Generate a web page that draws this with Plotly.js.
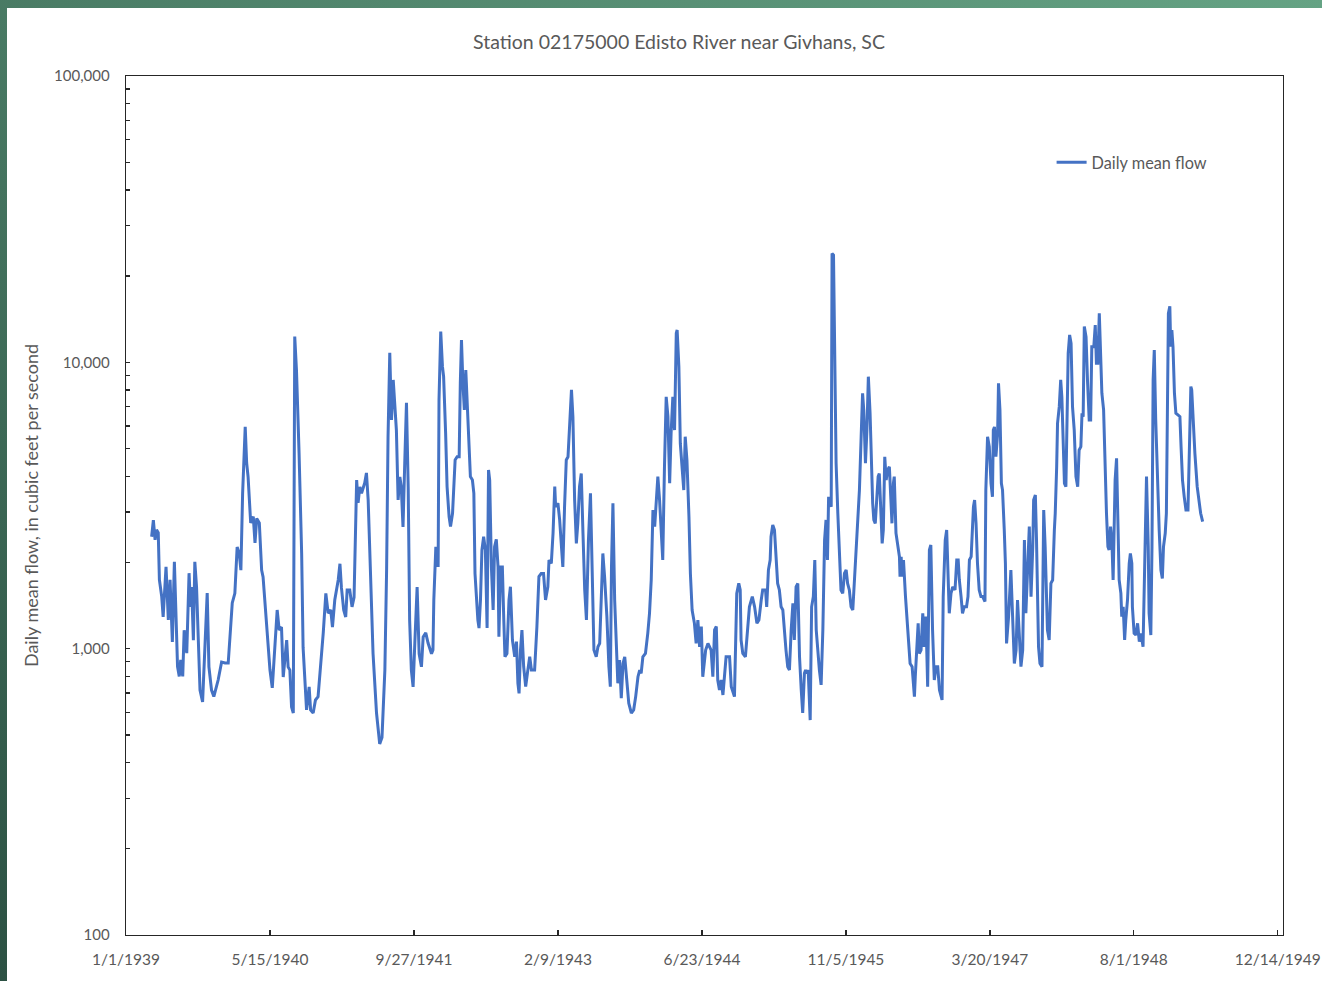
<!DOCTYPE html>
<html>
<head>
<meta charset="utf-8">
<script src="https://cdn.plot.ly/plotly-3.0.1.min.js"></script>
<style>
  html, body { margin: 0; padding: 0; width: 1322px; height: 981px; overflow: hidden; }
  body { background: linear-gradient(45deg, #2c5143 0%, #4b7d66 45%, #65a384 100%); position: relative; }
  #chart { position: absolute; left: 7px; top: 8px; width: 1315px; height: 973px; background: #fff; }
</style>
</head>
<body>
<div id="chart"></div>
<script>
// Days since 1/1/1939 (record start) and daily mean flow (cubic feet per second)
const startDate = '1939-01-01';
const dayOffsets = [
  89,95,101,106,112,116,124,129,139,147,153,161,168,174,179,185,190,197,202,211,
  219,224,228,234,239,245,257,266,274,282,288,297,305,320,332,344,355,361,369,378,
  386,393,399,405,414,419,424,433,442,448,454,463,471,476,488,500,508,517,525,532,
  540,546,553,558,563,569,575,581,586,592,601,610,615,621,627,636,641,650,658,667,
  677,685,694,702,711,717,725,737,743,748,756,763,768,777,785,792,801,806,812,818,
  829,835,841,847,853,858,870,881,889,899,905,910,916,922,928,933,939,945,951,956,
  962,968,974,980,985,991,997,1003,1011,1018,1026,1032,1041,1049,1061,1066,
  1069,1076,1084,1087,1093,1099,1103,1110,1115,1122,1127,1134,1138,1143,1150,1157,1161,1165,1170,1175,
  1180,1184,1191,1196,1203,1208,1212,1217,1222,1226,1231,1236,1242,1248,1254,1259,1263,1269,1275,1280,
  1286,1292,1295,1301,1307,1312,1316,1323,1330,1335,1342,1350,1356,1361,1365,1370,1375,1381,1388,1394,
  1402,1408,1419,1427,1434,1442,1450,1457,1465,1469,1477,1483,1489,1492,1500,1506,1512,1517,1523,1529,
  1535,1541,1547,1552,1558,1564,1569,1575,1581,1587,1593,1599,1606,1613,1619,1625,1633,1639,1645,1651,
  1656,1662,1670,1677,1682,1686,1691,1697,1703,1708,1714,1720,1726,1732,1737,1746,1755,1763,1770,1778,
  1784,1789,1795,1804,1812,1818,1824,1830,1836,1841,1847,1853,1859,1864,1870,1876,1882,1888,1893,1899,
  1905,1911,1914,1920,1925,1932,1937,1942,1948,1955,1960,1966,1974,1980,1986,1992,1998,2003,2013,2021,
  2032,2038,2044,2050,2055,2061,2067,2073,2079,2084,2096,
  2102,2113,2119,2121,2128,2133,2136,2142,2151,2159,2165,2175,2183,2191,2198,2206,2211,2221,2225,2231,
  2237,2240,2246,2252,2258,2263,2269,2275,2281,2286,2292,2298,2304,2310,2316,2321,2327,2333,2339,2345,
  2350,2356,2360,2364,2369,2376,2381,2387,2392,2397,2402,2408,2414,2420,2426,2431,2436,2440,2449,2452,
  2457,2461,2466,2472,2478,2483,2489,2495,2501,2506,2512,2518,2524,2530,2535,2541,2547,2553,2558,2562,
  2568,2573,2578,2584,2588,2593,2597,2602,2607,2612,2616,2621,2626,2630,2635,2640,2645,2651,2657,2660,
  2665,2668,2674,2680,2686,2688,2692,2695,2700,2707,2715,2720,2723,2730,2734,2738,2741,2746,2751,2755,
  2761,2767,2772,2778,2784,2790,2795,2801,2807,2813,2819,2825,2834,2838,2845,2850,2855,2859,2865,2871,
  2879,2885,2890,2894,2900,2905,2911,2919,2924,2929,2935,2938,2943,2947,2952,2957,2963,2969,2975,2983,
  2986,2992,2998,3004,3009,3012,3016,3021,3027,3030,3035,3040,3044,3050,3054,3058,3065,
  3073,3079,3085,3091,3096,3102,3108,3114,3120,3125,3131,3137,3143,3149,3152,3158,3162,3169,3174,3181,
  3187,3192,3200,3206,3212,3218,3224,3227,3232,3235,3241,3246,3250,3255,3259,3264,3268,3272,3277,3282,
  3287,3293,3299,3305,3310,3316,3320,3324,3328,3334,3339,3345,3350,3354,3361,3366,3370,3375,3380,3384,
  3389,3395,3401,3405,3410,3414,3419,3424,3428,3435,3440,3445,3449,3455,3458,3463,3468,3472,3478,3484,
  3488,3493,3495,3501,3507,3513,3519,3525,3532,3539,3544,3550,3553,3559,3563,3567,3571,3576,3582,3588,
  3594,3599,3603,3609,3613,3617,3620,3625,3628,3632,3636,3641,3646,3653,3660,3664,3669,3675,3681,3688,
  3692,3698,3701,3706,3712,3720,3726,3732,3739
];
const flows = [
  2460,2810,2400,2600,2540,1740,1520,1290,1930,1260,1740,1055,2010,1330,866,800,913,800,1160,965,
  1835,1400,1640,1070,2010,1640,717,652,1010,1565,864,717,680,777,898,891,891,1135,1445,1560,
  2265,2155,1880,3490,5960,4450,3980,2750,2890,2340,2850,2750,1880,1780,1190,842,730,1046,1365,1162,
  1190,796,960,1072,864,842,626,596,12300,9400,4830,2155,1010,735,611,735,611,596,662,680,
  891,1135,1560,1330,1365,1190,1479,1737,1980,1640,1365,1290,1603,1603,1400,1510,3880,3230,3670,3490,
  3790,4110,3305,1980,1445,960,596,465,490,842,1880,5500,10800,6290,8680,7390,5800,3305,3980,3670,
  2660,4450,7220,3670,1259,842,735,1046,1640,960,864,1098,1135,1046,960,989,
  1479,2270,1930,7390,12800,9660,8910,5650,3680,2890,2670,2970,3490,4560,4680,4680,8450,11970,8450,6820,
  9400,7390,4940,3990,3880,3490,1830,1479,1259,1180,1479,2211,2460,2211,1180,4210,3880,1930,1365,2270,
  2410,1930,1100,1930,1930,1259,937,962,1479,1645,1072,937,1058,757,698,989,1162,865,737,820,
  937,842,842,1195,1785,1830,1830,1479,1645,2040,1985,2530,3680,3130,3220,2815,2150,1930,3130,4560,
  4680,6120,8010,6460,3305,2330,2740,3680,4090,2530,1603,1259,2396,3490,1645,989,937,1015,1043,1479,
  2150,1785,1294,865,737,1930,3220,1479,989,757,913,671,888,937,820,645,596,611,680,798,
  842,820,937,962,1131,1329,1737,3050,2670,3305,3990,3305,2530,2040,4320,7580,6460,3780,5650,7580,
  5800,12640,12970,9660,5210,3990,3580,5500,4560,2890,1830,1365,1226,1043,1259,1015,1195,798,989,1043,
  989,798,1162,1195,777,717,777,689,820,937,937,
  737,680,1195,1560,1690,1603,1072,962,937,1162,1400,1520,1400,1226,1259,1479,1603,1603,1400,1882,
  2040,2460,2705,2597,2095,1690,1603,1400,1365,1162,989,865,842,1162,1440,1072,1645,1690,937,717,
  596,820,842,820,842,563,1400,1520,2040,1162,962,842,747,1162,2396,2815,2040,3390,3130,24000,
  23700,12970,4440,2970,1930,1603,1560,1830,1882,1690,1603,1400,1365,1737,2211,2970,3580,5500,7800,6820,
  4440,5800,8910,6640,4440,3220,2815,2740,3305,3990,4090,3130,2330,2597,4680,3880,4210,4320,3130,2740,
  3780,3990,2530,2330,2095,1785,2095,1785,2040,1520,1162,1015,888,865,777,680,798,989,1226,962,
  989,1329,1015,1294,737,2211,2302,1162,777,865,865,717,662,1520,2396,2597,1737,1329,1560,1645,
  1603,2040,2040,1737,1520,1329,1400,1400,1520,2040,2095,2460,3130,3305,2740,1985,1603,1520,1520,1460,
  3580,5500,5080,3780,3390,5800,5950,4680,5650,8450,6820,3780,3580,2597,1985,1043,1294,
  1882,1329,888,989,1479,1131,865,989,2396,1329,1930,2670,1520,2270,3305,3440,2396,1015,888,865,
  3050,2270,1162,1072,1690,1737,2597,2970,4320,6120,7000,8680,7580,5080,3780,3680,5950,10750,12460,11650,
  7000,5800,3990,3680,4940,5080,6640,6460,13330,12280,8680,6290,6290,11340,11340,13500,9920,9920,14830,10470,
  7800,6820,3880,2970,2270,2211,2670,2330,1737,3880,4620,2970,1737,1560,1294,1400,1072,1259,1479,1985,
  2150,1985,1400,1131,1116,1226,1058,1131,1015,2270,3990,2270,1329,1116,2270,8680,11040,6290,3880,2597,
  1882,1760,2270,2530,2970,9920,14830,15700,11340,12970,11340,7800,6640,6550,6460,5080,3880,3390,3050,3050,
  4440,8230,8010,6290,4810,3680,3305,2970,2780
];
const seriesName = 'Daily mean flow';
const chartTitle = 'Station 02175000 Edisto River near Givhans, SC';
const yTitle = 'Daily mean flow, in cubic feet per second';
const xTickStart = '1939-01-01';
const xRangeEnd = '1950-01-01';
const xTickStepDays = 500;
const yTickValues = [100,200,300,400,500,600,700,800,900,1000,2000,3000,4000,5000,6000,7000,8000,9000,
  10000,20000,30000,40000,50000,60000,70000,80000,90000,100000];
const yTickLabels = yTickValues.map(v => [100,1000,10000,100000].includes(v) ? v.toLocaleString('en-US') : '');

const t0 = Date.UTC(1939, 0, 1);
const dates = dayOffsets.map(d => new Date(t0 + d * 86400000).toISOString().slice(0, 10));

const FONT = 'Lato, "Open Sans", sans-serif';
const GREY = '#595959';

const trace = {
  x: dates, y: flows, type: 'scatter', mode: 'lines', name: seriesName,
  line: { color: '#4472C4', width: 3 }, showlegend: true
};

const layout = {
  width: 1315, height: 973,
  margin: { l: 119, r: 39, t: 68, b: 46 },
  paper_bgcolor: '#ffffff', plot_bgcolor: '#ffffff',
  font: { family: FONT, color: GREY, size: 15 },
  title: { text: chartTitle, font: { family: FONT, size: 19.5, color: GREY },
           x: 0.478, xref: 'paper', xanchor: 'center', y: 0.965, yref: 'container', yanchor: 'middle' },
  showlegend: true,
  legend: { x: 0.8, y: 0.899, xanchor: 'left', yanchor: 'middle', bgcolor: 'rgba(0,0,0,0)',
            font: { family: FONT, size: 16.3, color: GREY } },
  xaxis: {
    type: 'date', range: [xTickStart, xRangeEnd], tick0: xTickStart, dtick: xTickStepDays * 86400000,
    tickformat: '%-m/%-d/%Y', ticks: 'inside', ticklen: 5, tickwidth: 1.3, tickcolor: '#262626',
    showline: true, linecolor: '#262626', linewidth: 1.3, mirror: true, showgrid: false, zeroline: false,
    tickfont: { family: FONT, size: 15.5, color: GREY }, ticklabelstandoff: 10
  },
  yaxis: {
    type: 'log', range: [2, 5], tickmode: 'array', tickvals: yTickValues, ticktext: yTickLabels,
    ticks: 'inside', ticklen: 4, tickwidth: 1.3, tickcolor: '#262626',
    showline: true, linecolor: '#262626', linewidth: 1.3, mirror: true, showgrid: false, zeroline: false,
    tickfont: { family: FONT, size: 15, color: GREY }, ticklabelstandoff: 12,
    title: { text: yTitle, font: { family: FONT, size: 18, color: GREY }, standoff: 10 }
  }
};

Plotly.newPlot('chart', [trace], layout, { displayModeBar: false, staticPlot: true });
</script>
</body>
</html>
